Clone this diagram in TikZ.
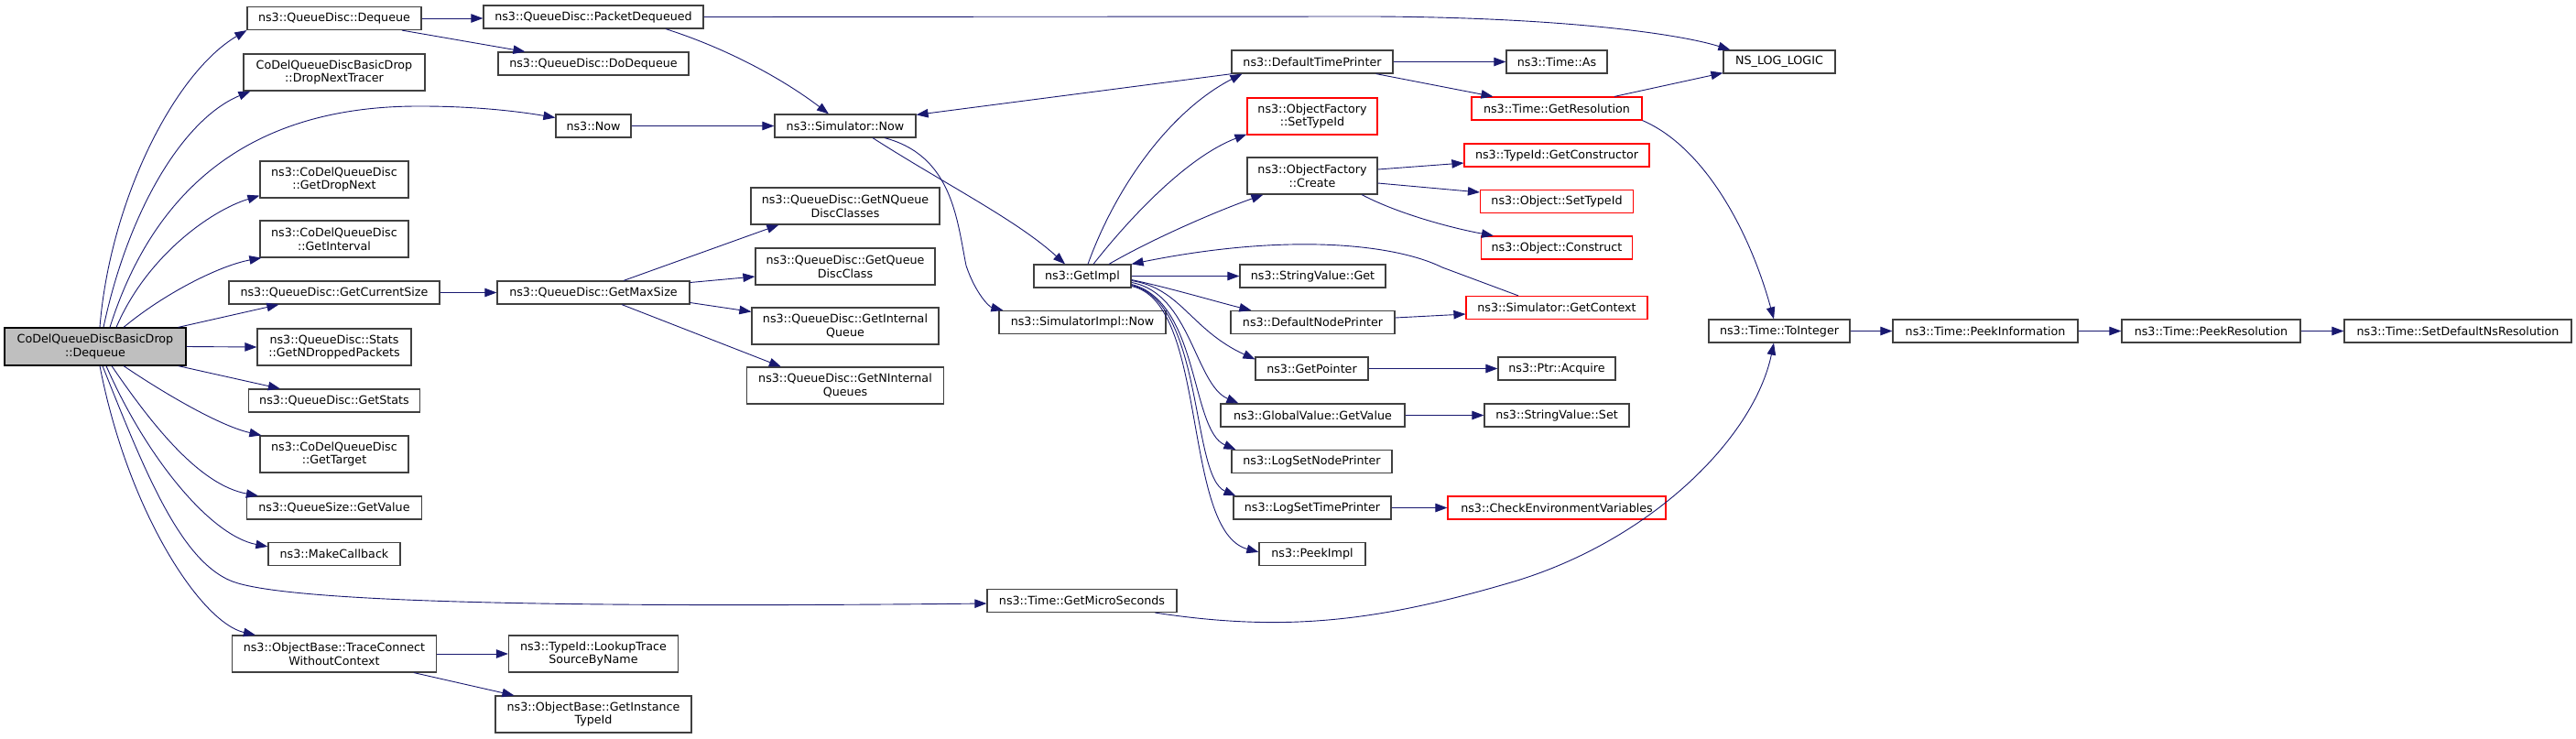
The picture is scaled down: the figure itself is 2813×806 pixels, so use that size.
\documentclass[tikz,border=0pt]{standalone}
\usepackage{fontspec}
\setmainfont{DejaVu Sans}
\usetikzlibrary{arrows.meta, calc}
\definecolor{cedge}{HTML}{191970}
\definecolor{cborder}{HTML}{404040}
\definecolor{croot}{HTML}{BFBFBF}
\definecolor{ctrunc}{HTML}{FF0000}
\tikzset{
  every picture/.style={line width=0.9pt},
  box/.style={draw=#1, fill=white, line width=1.2pt, align=center, inner sep=0pt, minimum height=25pt},
  box/.default=cborder,
  call/.style={-{Triangle[length=13pt, width=9.5pt]}, draw=cedge, line width=0.9pt},
}

\begin{document}
\begin{tikzpicture}[x=1pt, y=-1pt,
  every node/.append style={font=\fontsize{12.7pt}{14.7pt}\selectfont}]
  \useasboundingbox (0,0) rectangle (2813,806);
  % root of the call graph
  \node[box=black, fill=croot, minimum width=198pt, minimum height=41pt] (main) at (104,378.5) {CoDelQueueDiscBasicDrop\\::Dequeue};
  % callees
  \foreach \nm/\px/\py/\ww/\hh/\cl/\tx in {
     qdd/365/20/190/25/cborder/{ns3::QueueDisc::Dequeue},
     pdq/648/18.5/240/25/cborder/{ns3::QueueDisc::PacketDequeued},
     ddq/648/69.5/208/25/cborder/{ns3::QueueDisc::DoDequeue},
     dnt/365/79/198/40/cborder/{CoDelQueueDiscBasicDrop\\::DropNextTracer},
     now/648/137.5/82/25/cborder/{ns3::Now},
     gdn/365/196/162/40/cborder/{ns3::CoDelQueueDisc\\::GetDropNext},
     gin/365/261/162/40/cborder/{ns3::CoDelQueueDisc\\::GetInterval},
     gcs/365/319.5/230/25/cborder/{ns3::QueueDisc::GetCurrentSize},
     gms/648/319.5/210/25/cborder/{ns3::QueueDisc::GetMaxSize},
     gndp/365/379/168/40/cborder/{ns3::QueueDisc::Stats\\::GetNDroppedPackets},
     gst/365/437.5/187/25/cborder/{ns3::QueueDisc::GetStats},
     gtg/365/496/162/40/cborder/{ns3::CoDelQueueDisc\\::GetTarget},
     qsv/365/554.5/191/25/cborder/{ns3::QueueSize::GetValue},
     mcb/365/605/144/25/cborder/{ns3::MakeCallback},
     tcw/365/714/223/40/cborder/{ns3::ObjectBase::TraceConnect\\WithoutContext},
     ltb/648/714/185/40/cborder/{ns3::TypeId::LookupTrace\\SourceByName},
     git/648/780/214/40/cborder/{ns3::ObjectBase::GetInstance\\TypeId},
     snow/923/137.5/154/25/cborder/{ns3::Simulator::Now},
     gnqdc/923/225/206/40/cborder/{ns3::QueueDisc::GetNQueue\\DiscClasses},
     gqdc/923/291/196/40/cborder/{ns3::QueueDisc::GetQueue\\DiscClass},
     giq/923/356/204/40/cborder/{ns3::QueueDisc::GetInternal\\Queue},
     gniq/923/421/215/40/cborder/{ns3::QueueDisc::GetNInternal\\Queues},
     gimpl/1182/301.5/106/25/cborder/{ns3::GetImpl},
     sinow/1182/352/182/25/cborder/{ns3::SimulatorImpl::Now},
     gmus/1181.5/656/207/25/cborder/{ns3::Time::GetMicroSeconds},
     dtp/1433/67.5/176/25/cborder/{ns3::DefaultTimePrinter},
     ofst/1433/127/142/40/ctrunc/{ns3::ObjectFactory\\::SetTypeId},
     ofcr/1433/192/142/40/cborder/{ns3::ObjectFactory\\::Create},
     svg/1433.5/301.5/159/25/cborder/{ns3::StringValue::Get},
     dnp/1433.5/352/179/25/cborder/{ns3::DefaultNodePrinter},
     gptr/1432.5/402.5/123/25/cborder/{ns3::GetPointer},
     gvgv/1433.5/453.5/201/25/cborder/{ns3::GlobalValue::GetValue},
     lsnp/1432.5/504/175/25/cborder/{ns3::LogSetNodePrinter},
     lstp/1433/554.5/172/25/cborder/{ns3::LogSetTimePrinter},
     pki/1433/605/116/25/cborder/{ns3::PeekImpl},
     tas/1700/67.5/110/25/cborder/{ns3::Time::As},
     tgr/1700/118.5/186/25/ctrunc/{ns3::Time::GetResolution},
     tgc/1700/169.5/202/25/ctrunc/{ns3::TypeId::GetConstructor},
     ost/1700/220/167/25/ctrunc/{ns3::Object::SetTypeId},
     ocn/1700/270.5/165/25/ctrunc/{ns3::Object::Construct},
     sgc/1700/336/198/25/ctrunc/{ns3::Simulator::GetContext},
     pacq/1700/402.5/128/25/cborder/{ns3::Ptr::Acquire},
     svs/1700/453.5/158/25/cborder/{ns3::StringValue::Set},
     cev/1700/554.5/238/25/ctrunc/{ns3::CheckEnvironmentVariables},
     nll/1943/67.5/122/25/cborder/{NS\_LOG\_LOGIC},
     tti/1943/361.5/154/25/cborder/{ns3::Time::ToInteger},
     tpi/2168/361.5/202/25/cborder/{ns3::Time::PeekInformation},
     tpr/2414.5/361.5/195/25/cborder/{ns3::Time::PeekResolution},
     tsdr/2684/361.5/248/25/cborder/{ns3::Time::SetDefaultNsResolution}} {
    \node[box=\cl, minimum width=\ww pt, minimum height=\hh pt] (\nm) at (\px,\py) {\tx};
  }
  % calls made by the root
  \draw[call] ([xshift=5pt]main.north) .. controls (120,220) and (190,80) .. (qdd.south west);
  \draw[call] ([xshift=9pt]main.north) .. controls (140,230) and (200,130) .. ([xshift=8pt]dnt.south west);
  \draw[call] ([xshift=16pt]main.north) .. controls (170,200) and (280,115) .. (460,116) .. controls (530,116) and (580,124) .. ([yshift=9pt]now.west);
  \draw[call] ([xshift=23pt]main.north) .. controls (160,280) and (230,230) .. ([yshift=3pt]gdn.south west);
  \draw[call] ([xshift=31pt]main.north) .. controls (180,320) and (240,290) .. ([xshift=2pt]gin.south west);
  \draw[call] ([xshift=-9pt]main.north east) -- ([xshift=55pt]gcs.south west);
  \draw[call] (main.east) -- (gndp.west);
  \draw[call] ([xshift=-9pt]main.south east) -- ([xshift=35pt]gst.north west);
  \draw[call] ([xshift=31pt]main.south) .. controls (180,430) and (240,465) .. ([xshift=2pt]gtg.north west);
  \draw[call] ([xshift=18pt]main.south) .. controls (170,470) and (220,530) .. ([xshift=13pt]qsv.north west);
  \draw[call] ([xshift=12pt]main.south) .. controls (160,500) and (230,585) .. ([yshift=-5pt]mcb.north west);
  \draw[call] ([xshift=8pt]main.south) .. controls (160,520) and (200,620) .. (260,637) .. controls (330,657) and (600,664) .. ([yshift=-3pt]gmus.west);
  \draw[call] ([xshift=5pt]main.south) .. controls (140,560) and (220,680) .. ([xshift=26pt]tcw.north west);
  % second level
  \draw[call] (qdd.east) -- (qdd.east -| pdq.west);
  \draw[call] ([xshift=74pt]qdd.south) -- ([xshift=30pt]ddq.north west);
  \draw[call] (pdq.east) -- (1500,18) .. controls (1700,19) and (1830,36) .. ([xshift=8pt]nll.north west);
  \draw[call] ([xshift=79pt]pdq.south) .. controls (800,55) and (860,90) .. ([xshift=-18pt]snow.north);
  \draw[call] (now.east) -- (snow.west);
  \draw[call] (gcs.east) -- (gms.west);
  \draw[call] ([xshift=33pt]gms.north) -- ([xshift=31pt]gnqdc.south west);
  \draw[call] ([yshift=11pt]gms.east) -- ([yshift=-11pt]gqdc.west);
  \draw[call] ([yshift=-11pt]gms.east) -- ([yshift=-5pt]giq.north west);
  \draw[call] ([xshift=31pt]gms.south) -- ([xshift=38pt]gniq.north west);
  \draw[call] (tcw.east) -- (ltb.west);
  \draw[call] ([xshift=87pt]tcw.south) -- ([xshift=21pt]git.north west);
  % simulator and implementation
  \draw[call] ([xshift=30pt]snow.south) .. controls (1030,200) and (1110,240) .. ([xshift=-19pt]gimpl.north);
  \draw[call] ([xshift=43pt]snow.south) .. controls (1040,170) and (1045,240) .. (1055,290) .. controls (1065,320) and (1080,335) .. ([xshift=5pt]sinow.north west);
  \draw[call] ([xshift=1pt]dtp.south west) -- ([yshift=-1pt]snow.north east);
  \draw[call] ([xshift=6pt]gimpl.north) .. controls (1220,200) and (1280,120) .. ([xshift=12pt]dtp.south west);
  \draw[call] ([xshift=12pt]gimpl.north) .. controls (1240,230) and (1300,170) .. ([yshift=1pt]ofst.south west);
  \draw[call] ([xshift=29pt]gimpl.north) .. controls (1260,260) and (1330,230) .. ([xshift=18pt]ofcr.south west);
  \draw[call] ([xshift=-42pt]sgc.north) -- (1575,292) .. controls (1520,265) and (1400,255) .. (gimpl.north east);
  \draw[call] (gimpl.east) -- (svg.west);
  \draw[call] ([yshift=-4pt]gimpl.east) .. controls (1280,315) and (1330,330) .. ([xshift=23pt]dnp.north west);
  \draw[call] ([yshift=-5pt]gimpl.east) .. controls (1290,315) and (1300,360) .. ([yshift=-3pt]gptr.north west);
  \draw[call] ([yshift=-7pt]gimpl.east) .. controls (1300,320) and (1305,420) .. ([xshift=20pt]gvgv.north west);
  \draw[call] ([yshift=-9pt]gimpl.east) .. controls (1310,330) and (1300,470) .. ([xshift=5pt]lsnp.north west);
  \draw[call] ([yshift=-10pt]gimpl.east) .. controls (1315,330) and (1300,520) .. ([xshift=3pt]lstp.north west);
  \draw[call] ([yshift=-11pt]gimpl.east) .. controls (1320,330) and (1290,580) .. ([yshift=-11pt]pki.north west);
  % third level
  \draw[call] (dtp.east) -- (tas.west);
  \draw[call] ([xshift=-19pt]dtp.south east) -- ([xshift=24pt]tgr.north west);
  \draw[call] ([yshift=7pt]ofcr.east) -- ([yshift=-8.5pt]tgc.west);
  \draw[call] ([yshift=-8pt]ofcr.east) -- ([yshift=10pt]ost.west);
  \draw[call] ([xshift=54pt]ofcr.south) .. controls (1530,235) and (1590,250) .. ([xshift=14pt]ocn.north west);
  \draw[call] ([yshift=5pt]dnp.east) -- ([yshift=-7pt]sgc.west);
  \draw[call] (gptr.east) -- (pacq.west);
  \draw[call] (gvgv.east) -- (svs.west);
  \draw[call] (lstp.east) -- (cev.west);
  \draw[call] ([xshift=63pt]tgr.north) -- ([yshift=1pt]nll.south west);
  \draw[call] (tgr.south east) .. controls (1860,160) and (1910,250) .. ([xshift=-6pt]tti.north);
  \draw[call] ([xshift=80pt]gmus.south) .. controls (1400,690) and (1500,680) .. (1650,636) .. controls (1800,592) and (1915,480) .. ([xshift=-6pt]tti.south);
  % time chain
  \draw[call] (tti.east) -- (tpi.west);
  \draw[call] (tpi.east) -- (tpr.west);
  \draw[call] (tpr.east) -- (tsdr.west);
\end{tikzpicture}
\end{document}
